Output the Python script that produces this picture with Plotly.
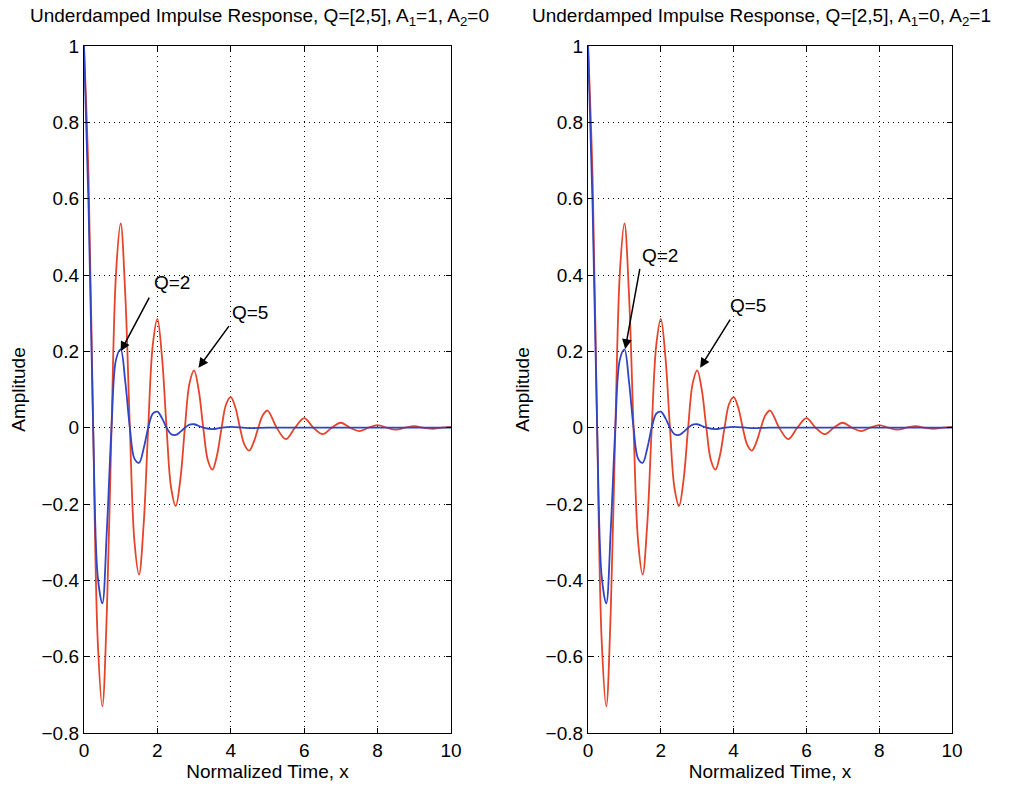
import plotly.graph_objects as go
from plotly.subplots import make_subplots

# ---- data ----
x_q5 = [0, 0.125, 0.25, 0.375, 0.5, 0.625, 0.75, 0.875, 1.0, 1.125, 1.25, 1.375, 1.5, 1.625, 1.75, 1.875,
        2.0, 2.125, 2.25, 2.375, 2.5, 2.625, 2.75, 2.875, 3.0, 3.125, 3.25, 3.375, 3.5, 3.625, 3.75, 3.875,
        4.0, 4.125, 4.25, 4.375, 4.5, 4.625, 4.75, 4.875, 5.0, 5.25, 5.5, 5.75, 6.0, 6.25, 6.5, 6.75,
        7.0, 7.25, 7.5, 7.75, 8.0, 8.25, 8.5, 8.75, 9.0, 9.25, 9.5, 9.75, 10.0]
y_q5 = [1.0, 0.653, 0.0, -0.559, -0.73, -0.477, 0.0, 0.408, 0.535, 0.349, 0.0, -0.298, -0.385, -0.255, 0.0, 0.217,
        0.285, 0.186, 0.0, -0.158, -0.205, -0.136, 0.0, 0.116, 0.15, 0.099, 0.0, -0.085, -0.11, -0.072, 0.0, 0.062,
        0.08, 0.053, 0.0, -0.045, -0.06, -0.038, 0.0, 0.033, 0.045, 0.0, -0.03, 0.0, 0.025, 0.0, -0.017, 0.0,
        0.013, 0.0, -0.009, 0.0, 0.007, 0.0, -0.005, 0.0, 0.004, 0.0, -0.003, 0.0, 0.002]

x_q2 = [0, 0.125, 0.25, 0.375, 0.5, 0.625, 0.75, 0.875, 1.0, 1.125, 1.25, 1.375, 1.5, 1.625, 1.75, 1.875,
        2.0, 2.125, 2.25, 2.375, 2.5, 2.625, 2.75, 2.875, 3.0, 3.25, 3.5, 3.75, 4.0, 4.5, 5.0, 6.0, 7.0, 8.0, 9.0, 10.0]
y_q2 = [1.0, 0.58, 0.0, -0.39, -0.46, -0.265, 0.0, 0.179, 0.205, 0.121, 0.0, -0.081, -0.092, -0.055, 0.0, 0.037,
        0.042, 0.025, 0.0, -0.017, -0.019, -0.011, 0.0, 0.008, 0.009, 0.0, -0.004, 0.0, 0.002, -0.001, 0.0, 0.0, 0.0, 0.0, 0.0, 0.0]

titles = ["Underdamped Impulse Response, Q=[2,5], A<sub>1</sub>=1, A<sub>2</sub>=0",
          "Underdamped Impulse Response, Q=[2,5], A<sub>1</sub>=0, A<sub>2</sub>=1"]
x_ticks = [0, 2, 4, 6, 8, 10]
y_ticks = [-0.8, -0.6, -0.4, -0.2, 0, 0.2, 0.4, 0.6, 0.8, 1]
y_ticktext = ["\u22120.8", "\u22120.6", "\u22120.4", "\u22120.2", "0", "0.2", "0.4", "0.6", "0.8", "1"]

# annotation positions (data coords): text, arrow head, arrow tail
ann = [
    {"q2_text": (2.4, 0.38), "q2_head": (1.0, 0.2), "q2_tail": (1.8, 0.345),
     "q5_text": (4.52, 0.303), "q5_head": (3.12, 0.157), "q5_tail": (3.98, 0.27)},
    {"q2_text": (1.98, 0.452), "q2_head": (1.02, 0.206), "q2_tail": (1.43, 0.42),
     "q5_text": (4.4, 0.319), "q5_head": (3.08, 0.157), "q5_tail": (3.93, 0.287)},
]

RED = "#e6432b"
BLUE = "#2f45c4"
FONT = "Liberation Sans, Arial, Helvetica, sans-serif"

fig = make_subplots(rows=1, cols=2)

for c in (1, 2):
    fig.add_trace(go.Scatter(x=x_q5, y=y_q5, mode="lines", line=dict(color=RED, width=1.8, shape="spline"),
                             showlegend=False), row=1, col=c)
    fig.add_trace(go.Scatter(x=x_q2, y=y_q2, mode="lines", line=dict(color=BLUE, width=1.8, shape="spline"),
                             showlegend=False), row=1, col=c)

axis_common = dict(showline=True, linecolor="black", linewidth=1.3, mirror="ticks",
                   ticks="inside", ticklen=5, tickcolor="black", automargin=False,
                   showgrid=True, gridcolor="black", griddash="1px,4px", gridwidth=1.2,
                   zeroline=False, tickfont=dict(family=FONT, size=19, color="black"))

doms_x = [[0.0829, 0.4452], [0.5805, 0.9398]]
dom_y = [0.0733, 0.9418]

for i, c in enumerate((1, 2)):
    fig.update_xaxes(range=[0, 10], tickvals=x_ticks, domain=doms_x[i],
                     title=dict(text="Normalized Time, x", font=dict(family=FONT, size=19, color="black"), standoff=4),
                     row=1, col=c, **axis_common)
    fig.update_yaxes(range=[-0.8, 1], tickvals=y_ticks, ticktext=y_ticktext, domain=dom_y,
                     title=dict(text="Amplitude", font=dict(family=FONT, size=19, color="black"), standoff=10),
                     row=1, col=c, **axis_common)

annotations = []
for i in range(2):
    xr = "x" if i == 0 else "x2"
    yr = "y" if i == 0 else "y2"
    d = ann[i]
    annotations.append(dict(text=titles[i], xref="paper", yref="paper",
                            x=(doms_x[i][0] + doms_x[i][1]) / 2 - 0.008, y=0.978, xanchor="center", yanchor="middle",
                            showarrow=False, font=dict(family=FONT, size=19, color="black")))
    for q in ("q2", "q5"):
        tx, ty = d[q + "_text"]
        annotations.append(dict(text="Q=2" if q == "q2" else "Q=5", xref=xr, yref=yr, x=tx, y=ty,
                                showarrow=False, font=dict(family=FONT, size=19, color="black")))
        hx, hy = d[q + "_head"]
        sx, sy = d[q + "_tail"]
        annotations.append(dict(text="", xref=xr, yref=yr, x=hx, y=hy, axref=xr, ayref=yr, ax=sx, ay=sy,
                                showarrow=True, arrowhead=2, arrowsize=1.3, arrowwidth=1.5, arrowcolor="black"))

fig.update_layout(width=1013, height=791, margin=dict(l=0, r=0, t=0, b=0),
                  paper_bgcolor="white", plot_bgcolor="white", annotations=annotations,
                  font=dict(family=FONT, color="black"))

fig.write_html("out.html")
